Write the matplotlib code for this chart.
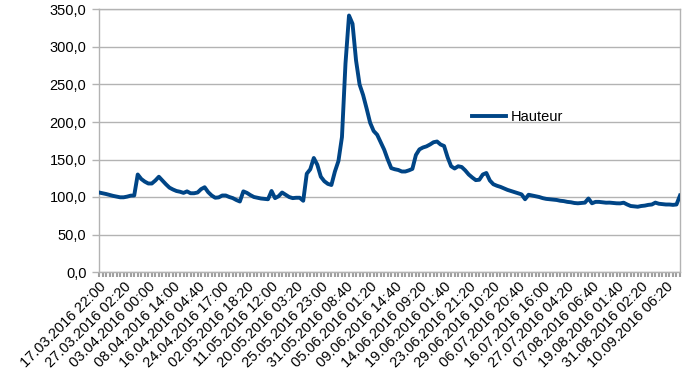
import matplotlib
matplotlib.use("Agg")
import matplotlib.pyplot as plt
import numpy as np

plt.rcParams['font.family'] = ['Liberation Sans', 'DejaVu Sans']

# -----------------------------
# Data (water height)
# -----------------------------
hauteur = [
    106, 105, 104, 102.7, 101.5, 100.5, 99.6, 99.6, 100.5, 101.8,
    102, 130, 124, 120.5, 118, 118, 122, 127, 122, 117,
    112.5, 110, 108, 107, 105.5, 107.5, 105, 105, 106, 110.5,
    113, 106.5, 102, 99, 99.5, 102, 102, 100, 98.5, 96,
    94, 107.5, 105.5, 102.5, 100, 99, 98, 97.5, 97, 108,
    98.5, 101, 106, 103, 100, 98.5, 99, 99, 95, 131,
    137, 152, 143, 127, 121, 117.5, 116, 134, 148, 180,
    278, 342, 331, 282, 250, 236, 218, 199, 188, 183,
    173, 163, 150, 138.5, 137, 136, 134, 134, 135.5, 137.5,
    156, 163.5, 166, 167.5, 170, 173, 174, 170, 168, 153,
    141, 138, 141, 140, 135.5, 130, 126, 122.5, 123, 130,
    132, 122, 117, 115, 113.5, 111.5, 109.5, 108, 106.5, 105,
    103.5, 97, 103, 102, 101, 100, 98.5, 97.5, 97, 96.5,
    96, 95, 94.5, 93.5, 93, 92, 91.6, 92, 92.5, 98,
    91.6, 93.5, 93.5, 93, 92.4, 92.5, 92, 91.6, 91.5, 92.4,
    90, 88, 87.5, 87, 88, 88.5, 89.5, 90, 92.5, 91,
    90.5, 90, 90, 89.5, 90, 102,
]

tick_labels = [
    "17.03.2016 22:00", "27.03.2016 02:20", "03.04.2016 00:00",
    "08.04.2016 14:00", "16.04.2016 04:40", "24.04.2016 17:00",
    "02.05.2016 18:20", "11.05.2016 12:00", "20.05.2016 03:20",
    "25.05.2016 23:00", "31.05.2016 08:40", "05.06.2016 01:20",
    "09.06.2016 14:40", "14.06.2016 09:20", "19.06.2016 01:40",
    "23.06.2016 21:20", "29.06.2016 10:20", "06.07.2016 20:40",
    "16.07.2016 16:00", "27.07.2016 04:20", "07.08.2016 06:40",
    "19.08.2016 01:40", "31.08.2016 02:20", "10.09.2016 06:20",
]
label_step = 7

# -----------------------------
# Plot
# -----------------------------
fig = plt.figure(figsize=(6.93, 3.90), dpi=100)
ax = fig.add_axes([99 / 693, 118 / 390, 581 / 693, 262.5 / 390])

x = np.arange(len(hauteur))
ax.plot(x, hauteur, color="#004586", lw=2.8, solid_joinstyle="round",
        label="Hauteur", zorder=3)

ax.set_xlim(0, len(hauteur) - 1)
ax.set_ylim(0, 350)

grid_col = "#b3b3b3"
ax.set_yticks(np.arange(0, 351, 50))
ax.set_yticklabels([f"{v:.1f}".replace(".", ",") for v in np.arange(0, 351, 50)])
ax.yaxis.grid(True, color=grid_col, lw=1)
ax.set_axisbelow(True)

ax.set_xticks(x, minor=True)
ax.set_xticks(x[::label_step][:len(tick_labels)])
ax.set_xticklabels(tick_labels, rotation=45, ha="right", rotation_mode="anchor")

ax.tick_params(axis="y", length=5, width=1, color=grid_col, labelsize=10.5, pad=4)
ax.tick_params(axis="x", which="both", length=3.5, width=1.5, color="#a0a0a0",
               labelsize=10.5, pad=2)

for s in ax.spines.values():
    s.set_color(grid_col)
    s.set_linewidth(1)

ax.legend(loc="center left", bbox_to_anchor=(0.62, 0.59), frameon=False,
          fontsize=10.5, handlelength=2.3, handletextpad=0.3)

fig.savefig("out.png", dpi=100)
